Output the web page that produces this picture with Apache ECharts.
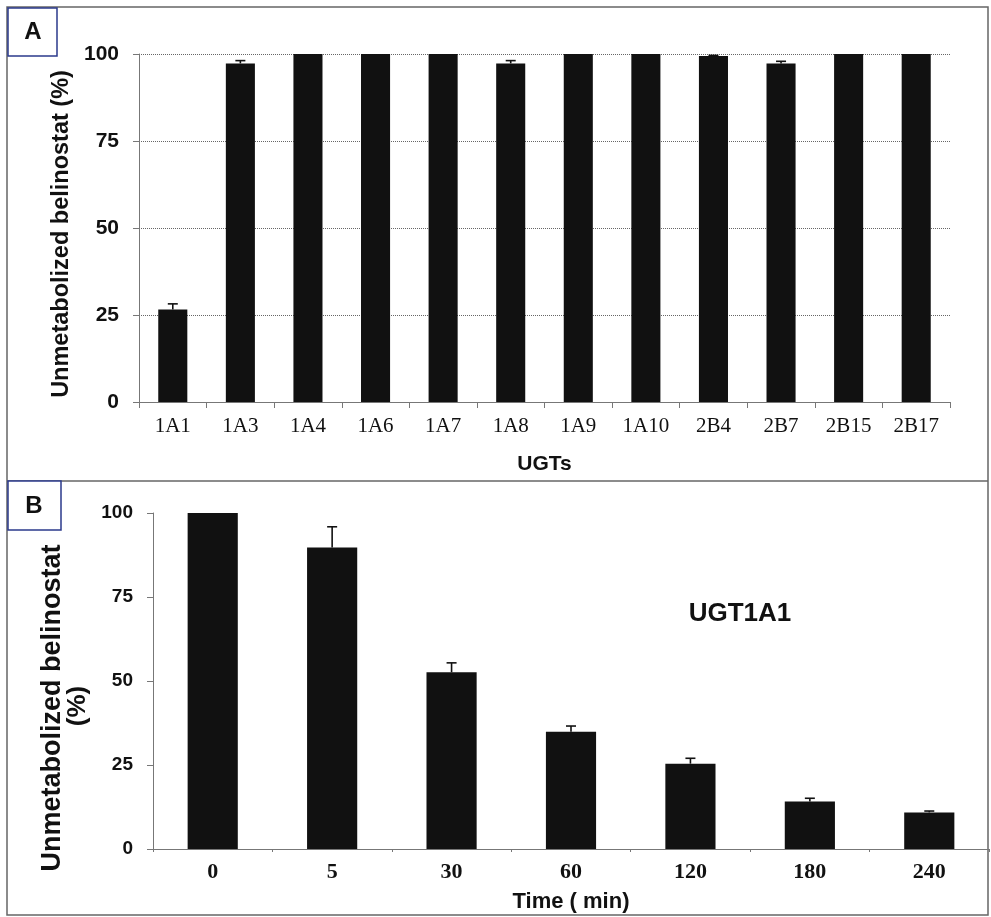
<!DOCTYPE html>
<html>
<head>
<meta charset="utf-8">
<script src="https://cdn.jsdelivr.net/npm/echarts@6/dist/echarts.min.js"></script>
<style>
html,body{margin:0;padding:0;background:#fff;}
#chart{width:991px;height:917px;}
</style>
</head>
<body>
<div id="chart"></div>
<script>
// Panel A data
const ugtCategories = ['1A1','1A3','1A4','1A6','1A7','1A8','1A9','1A10','2B4','2B7','2B15','2B17'];
const ugtValues = [26.6, 97.3, 100, 100, 100, 97.3, 100, 100, 99.4, 97.3, 100, 100];
const ugtErrors = [1.6, 0.8, 0, 0, 0, 0.8, 0, 0, 0.2, 0.6, 0, 0];
const ugtTicks = [0, 25, 50, 75, 100];

// Panel B data
const timeCategories = ['0','5','30','60','120','180','240'];
const timeValues = [100, 89.7, 52.6, 34.9, 25.4, 14.1, 10.9];
const timeErrors = [0, 6.2, 2.8, 1.7, 1.6, 1.0, 0.4];
const timeTicks = [0, 25, 50, 75, 100];

const yNameA = 'Unmetabolized belinostat (%)';
const yNameB1 = 'Unmetabolized belinostat';
const yNameB2 = '(%)';

const chart = echarts.init(document.getElementById('chart'), null, {renderer:'canvas'});

function errRender(params, api) {
  const x = api.value(0), v = api.value(1), e = api.value(2);
  if (!e) return null;
  const p0 = api.coord([x, v]);
  const p1 = api.coord([x, v + e]);
  const style = {stroke:'#111', lineWidth:1.6};
  return {type:'group', children:[
    {type:'line', shape:{x1:p0[0], y1:p0[1], x2:p1[0], y2:p1[1]}, style:style},
    {type:'line', shape:{x1:p1[0]-5, y1:p1[1], x2:p1[0]+5, y2:p1[1]}, style:style}
  ]};
}

const sans = 'Liberation Sans, Arial, sans-serif';
const serif = 'Liberation Serif, Times New Roman, serif';

chart.setOption({
  animation:false,
  backgroundColor:'#fff',
  grid:[
    {left:139, top:54, width:811, height:348},
    {left:153, top:513, width:836, height:336}
  ],
  xAxis:[
    {type:'category', gridIndex:0, data:ugtCategories,
     axisLine:{lineStyle:{color:'#777', width:1}},
     axisTick:{show:true, length:6, lineStyle:{color:'#777'}},
     axisLabel:{color:'#111', fontFamily:serif, fontSize:21, margin:14},
     name:'UGTs', nameLocation:'middle', nameGap:52,
     nameTextStyle:{color:'#111', fontFamily:sans, fontWeight:'bold', fontSize:21}},
    {type:'category', gridIndex:1, data:timeCategories,
     axisLine:{lineStyle:{color:'#777', width:1}},
     axisTick:{show:true, length:3, lineStyle:{color:'#777'}},
     axisLabel:{color:'#111', fontFamily:serif, fontWeight:'bold', fontSize:22, margin:12},
     name:'Time ( min)', nameLocation:'middle', nameGap:42,
     nameTextStyle:{color:'#111', fontFamily:sans, fontWeight:'bold', fontSize:22}}
  ],
  yAxis:[
    {type:'value', gridIndex:0, min:ugtTicks[0], max:ugtTicks[ugtTicks.length-1], interval:25,
     axisLine:{show:true, lineStyle:{color:'#777', width:1}},
     axisTick:{show:true, length:6, lineStyle:{color:'#777'}},
     splitLine:{show:true, lineStyle:{color:'#666', type:'dotted', width:1}},
     axisLabel:{color:'#111', fontFamily:sans, fontWeight:'bold', fontSize:21, margin:20}},
    {type:'value', gridIndex:1, min:timeTicks[0], max:timeTicks[timeTicks.length-1], interval:25,
     axisLine:{show:true, lineStyle:{color:'#777', width:1}},
     axisTick:{show:true, length:6, lineStyle:{color:'#777'}},
     splitLine:{show:false},
     axisLabel:{color:'#111', fontFamily:sans, fontWeight:'bold', fontSize:19, margin:20}}
  ],
  series:[
    {type:'bar', xAxisIndex:0, yAxisIndex:0, data:ugtValues, barWidth:'43%',
     itemStyle:{color:'#111'}},
    {type:'custom', xAxisIndex:0, yAxisIndex:0, renderItem:errRender, z:5,
     data:ugtValues.map((v,i)=>[i, v, ugtErrors[i]])},
    {type:'bar', xAxisIndex:1, yAxisIndex:1, data:timeValues, barWidth:'42%',
     itemStyle:{color:'#111'}},
    {type:'custom', xAxisIndex:1, yAxisIndex:1, renderItem:errRender, z:5,
     data:timeValues.map((v,i)=>[i, v, timeErrors[i]])}
  ],
  graphic:[
    {type:'rect', shape:{x:7, y:7, width:981, height:908}, style:{fill:null, stroke:'#666', lineWidth:1.5}, silent:true},
    {type:'line', shape:{x1:7, y1:481, x2:988, y2:481}, style:{stroke:'#666', lineWidth:1.5}, silent:true},
    {type:'rect', shape:{x:8, y:8, width:49, height:48}, style:{fill:'#fff', stroke:'#2b3a8c', lineWidth:1.5}, silent:true},
    {type:'text', x:33, y:32, style:{text:'A', fill:'#111', font:'bold 24px Liberation Sans, Arial, sans-serif', textAlign:'center', textVerticalAlign:'middle'}},
    {type:'rect', shape:{x:8, y:481, width:53, height:49}, style:{fill:'#fff', stroke:'#2b3a8c', lineWidth:1.5}, silent:true},
    {type:'text', x:34, y:506, style:{text:'B', fill:'#111', font:'bold 24px Liberation Sans, Arial, sans-serif', textAlign:'center', textVerticalAlign:'middle'}},
    {type:'text', x:740, y:614, style:{text:'UGT1A1', fill:'#111', font:'bold 26px Liberation Sans, Arial, sans-serif', textAlign:'center', textVerticalAlign:'middle'}},
    {type:'text', x:62, y:234, rotation:Math.PI/2, style:{text:yNameA, fill:'#111', font:'bold 23.5px Liberation Sans, Arial, sans-serif', textAlign:'center', textVerticalAlign:'middle'}},
    {type:'text', x:53, y:708, rotation:Math.PI/2, style:{text:yNameB1, fill:'#111', font:'bold 27px Liberation Sans, Arial, sans-serif', textAlign:'center', textVerticalAlign:'middle'}},
    {type:'text', x:78, y:706, rotation:Math.PI/2, style:{text:yNameB2, fill:'#111', font:'bold 26px Liberation Sans, Arial, sans-serif', textAlign:'center', textVerticalAlign:'middle'}}
  ]
});
</script>
</body>
</html>
